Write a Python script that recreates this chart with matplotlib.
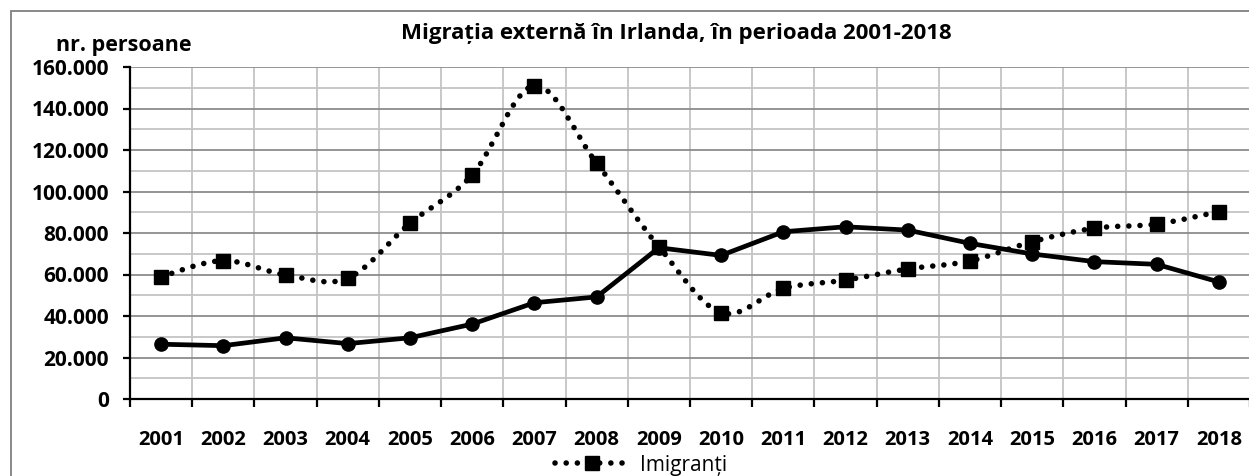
import numpy as np
import matplotlib
matplotlib.use("Agg")
import matplotlib.pyplot as plt
from matplotlib.path import Path
from matplotlib.patches import PathPatch, Rectangle
from matplotlib.lines import Line2D
from matplotlib.ticker import FuncFormatter, MultipleLocator, FixedLocator

years = ["2001", "2002", "2003", "2004", "2005", "2006", "2007", "2008", "2009",
         "2010", "2011", "2012", "2013", "2014", "2015", "2016", "2017", "2018"]
imigranti = [58900, 66700, 59800, 58200, 84700, 108000, 151000, 113600, 73400,
             41600, 53300, 57300, 62700, 66500, 75800, 82300, 84300, 90300]
emigranti = [26400, 25700, 29500, 26700, 29500, 36100, 46400, 49200, 72900,
             69200, 80600, 83000, 81400, 75000, 69900, 66200, 64900, 56400]

title = "Migrația externă în Irlanda, în perioada 2001-2018"
ylabel = "nr. persoane"
legend_label = "Imigranți"

plt.rcParams['font.family'] = ['Open Sans', 'DejaVu Sans']

W, H = 1249, 476
fig = plt.figure(figsize=(W / 100, H / 100), dpi=100)
fig.patch.set_facecolor('white')

# outer chart border (cropped on the right and bottom)
fig.patches.append(Rectangle((11 / W, -0.05), 1.2, 1 - 11 / H + 0.05,
                             transform=fig.transFigure, fill=False,
                             edgecolor='#808080', linewidth=1.3, zorder=0))

ax = fig.add_axes([130 / W, 1 - 399 / H, 1120 / W, 332 / H])
ax.set_xlim(0, len(years))
ax.set_ylim(0, 160000)

# grid
ax.yaxis.set_major_locator(MultipleLocator(20000))
ax.yaxis.set_minor_locator(MultipleLocator(10000))
ax.xaxis.set_major_locator(FixedLocator(np.arange(0, len(years) + 1)))
ax.xaxis.set_minor_locator(FixedLocator(np.arange(len(years)) + 0.5))
ax.grid(which='major', axis='y', color='#8c8c8c', linewidth=1.3)
ax.grid(which='minor', axis='y', color='#c4c4c4', linewidth=1.3)
ax.grid(which='major', axis='x', color='#c4c4c4', linewidth=1.3)
ax.set_axisbelow(True)

for s in ['top', 'right']:
    ax.spines[s].set_visible(False)
for s in ['left', 'bottom']:
    ax.spines[s].set_linewidth(1.6)
    ax.spines[s].set_color('black')

ax.yaxis.set_major_formatter(FuncFormatter(lambda v, p: f"{int(v):,}".replace(",", ".")))
ax.tick_params(axis='y', which='major', length=5, width=1.6, labelsize=15, pad=10)
ax.tick_params(axis='y', which='minor', length=0)
ax.tick_params(axis='x', which='major', length=6, width=1.6, labelbottom=False)
ax.tick_params(axis='x', which='minor', length=0, labelsize=14.5, pad=22)
ax.set_xticks(np.arange(len(years)) + 0.5, years, minor=True)
for lab in ax.get_yticklabels() + ax.get_xticklabels(minor=True):
    lab.set_fontweight('bold')

x = np.arange(len(years)) + 0.5

# smoothed dotted line (Catmull-Rom style Bezier like Excel smoothing)
pts = np.column_stack([x, np.array(imigranti, dtype=float)])
verts = [pts[0]]
codes = [Path.MOVETO]
n = len(pts)
for i in range(n - 1):
    p0 = pts[i - 1] if i > 0 else pts[i]
    p1 = pts[i]
    p2 = pts[i + 1]
    p3 = pts[i + 2] if i + 2 < n else pts[i + 1]
    c1 = p1 + (p2 - p0) / 6.0
    c2 = p2 - (p3 - p1) / 6.0
    verts += [c1, c2, p2]
    codes += [Path.CURVE4] * 3
dot_style = (0, (0.01, 2.0))
patch = PathPatch(Path(verts, codes), fill=False, edgecolor='black',
                  linewidth=4.0, linestyle=dot_style, capstyle='round', zorder=3)
ax.add_patch(patch)
ax.plot(x, imigranti, linestyle='none', marker='s', markersize=9.5,
        color='black', zorder=4, clip_on=False)

# solid line
ax.plot(x, emigranti, color='black', linewidth=3.4, marker='o', markersize=9.5,
        zorder=4, clip_on=False)

fig.text(676 / W, 1 - 33 / H, title, ha='center', va='center',
         fontsize=16, fontweight='bold')
fig.text(124 / W, 1 - 45 / H, ylabel, ha='center', va='center',
         fontsize=15.5, fontweight='bold')

handle = Line2D([], [], color='black', linewidth=4.0, linestyle=dot_style,
                dash_capstyle='round', marker='s', markersize=9.5)
fig.legend([handle], [legend_label], loc='center', bbox_to_anchor=(641 / W, 1 - 465 / H),
           frameon=False, fontsize=15, handlelength=3.6, handletextpad=0.5,
           borderpad=0, borderaxespad=0)

fig.savefig("out.png", dpi=100)
